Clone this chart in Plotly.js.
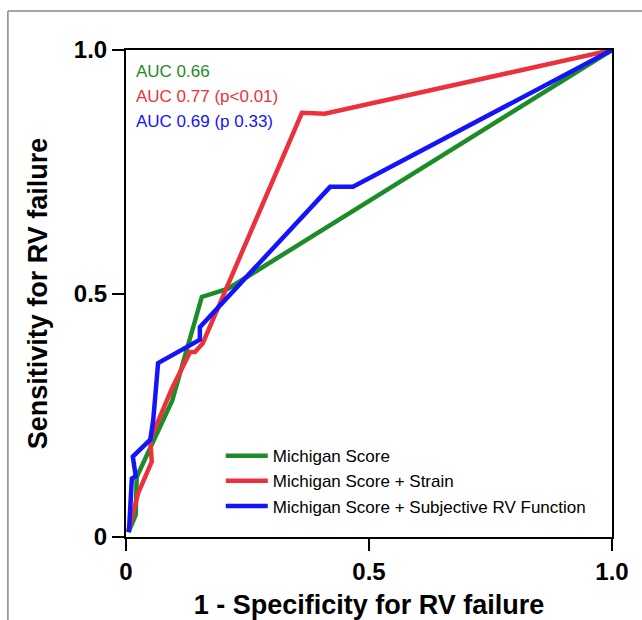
<!DOCTYPE html>
<html><head><meta charset="utf-8">
<script src="https://cdn.plot.ly/plotly-3.0.1.min.js"></script>
<style>html,body{margin:0;padding:0;background:#fff;}#chart{width:642px;height:620px;}</style>
</head><body><div id="chart"></div>
<script>
// Michigan Score
const greenX = [0.005, 0.02, 0.022, 0.095, 0.156, 0.21, 1.0];
const greenY = [0.01, 0.045, 0.123, 0.28, 0.493, 0.51, 1.0];
// Michigan Score + Strain
const redX = [0.004, 0.025, 0.053, 0.05, 0.095, 0.132, 0.142, 0.158, 0.362, 0.409, 1.0];
const redY = [0.01, 0.09, 0.155, 0.2, 0.306, 0.38, 0.38, 0.398, 0.871, 0.869, 1.0];
// Michigan Score + Subjective RV Function
const blueX = [0.006, 0.012, 0.02, 0.014, 0.05, 0.056, 0.066, 0.152, 0.152, 0.42, 0.467, 1.0];
const blueY = [0.01, 0.12, 0.125, 0.165, 0.2, 0.24, 0.357, 0.405, 0.431, 0.719, 0.719, 1.0];
const seriesNames = ["Michigan Score", "Michigan Score + Strain", "Michigan Score + Subjective RV Function"];
const aucLabels = ["AUC 0.66", "AUC 0.77 (p<0.01)", "AUC 0.69 (p 0.33)"];
const tickVals = [0, 0.5, 1.0];
const tickText = ["0", "0.5", "1.0"];

const cGreen = "rgb(28,140,40)", cRed = "rgb(235,50,60)", cBlue = "rgb(20,20,250)";
const colors = [cGreen, cRed, cBlue];
const FONT = "Liberation Sans, Arial, sans-serif";

const traces = [
  {x: greenX, y: greenY, name: seriesNames[0]},
  {x: redX, y: redY, name: seriesNames[1]},
  {x: blueX, y: blueY, name: seriesNames[2]}
].map((t, i) => Object.assign(t, {type: "scatter", mode: "lines", line: {color: colors[i], width: 4.5}}));

const axisBase = {
  range: [0, 1], tickvals: tickVals, ticktext: tickText,
  showgrid: false, zeroline: false, showline: true, linecolor: "#000", linewidth: 2,
  mirror: true, ticks: "outside", ticklen: 12, tickwidth: 2, tickcolor: "#000",
  tickfont: {family: FONT, size: 24, color: "#000", weight: "bold"}
};

const layout = {
  width: 642, height: 620,
  margin: {l: 126, r: 30, t: 50, b: 83},
  paper_bgcolor: "#fff", plot_bgcolor: "#fff",
  showlegend: true,
  legend: {x: 0.195, y: 0.203, xanchor: "left", yanchor: "top", bgcolor: "rgba(0,0,0,0)",
    itemwidth: 42, tracegroupgap: 0,
    font: {family: FONT, size: 17, color: "#000"}},
  xaxis: Object.assign({}, axisBase, {
    title: {text: "1 - Specificity for RV failure", standoff: 12,
      font: {family: FONT, size: 27, color: "#000", weight: "bold"}}
  }),
  yaxis: Object.assign({}, axisBase, {
    title: {text: "Sensitivity for RV failure", standoff: 18,
      font: {family: FONT, size: 27, color: "#000", weight: "bold"}}
  }),
  annotations: aucLabels.map((t, i) => ({
    text: t, xref: "paper", yref: "paper", x: 0.016, y: 0.955 - i * 0.051,
    xanchor: "left", yanchor: "middle", showarrow: false,
    font: {family: FONT, size: 17, color: colors[i]}
  })),
  shapes: [
    {type: "line", xref: "paper", yref: "paper", x0: -0.243, x1: 1.07, y0: 1.0801, y1: 1.0801, line: {color: "#888", width: 1.5}},
    {type: "line", xref: "paper", yref: "paper", x0: -0.243, x1: -0.243, y0: 1.0801, y1: -0.18, line: {color: "#888", width: 1.5}}
  ]
};

Plotly.newPlot("chart", traces, layout, {displayModeBar: false, staticPlot: true});
</script></body></html>
